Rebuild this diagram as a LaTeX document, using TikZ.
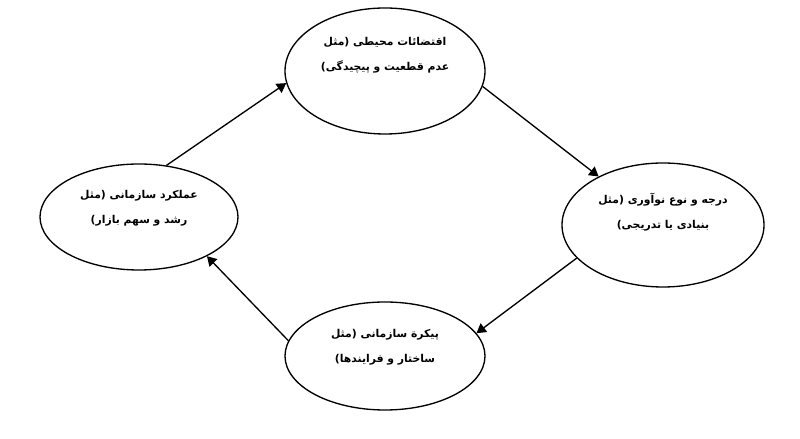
\documentclass[tikz,border=0pt]{standalone}
\usepackage{fontspec}
\TeXXeTstate=1
\newfontfamily\arabicfont[Script=Arabic]{DejaVu Sans}
\usetikzlibrary{arrows.meta,shapes.geometric}
\tikzset{>/.tip={Triangle[scale=1.25]},
  oval/.style={draw, ellipse, line width=0.95pt, inner sep=0pt},
  link/.style={->, line width=0.95pt},
  txt/.style={font=\arabicfont\bfseries\fontsize{7.7}{17.5}\selectfont, align=center}}
\newcommand{\rl}[1]{\beginR #1\endR}

\begin{document}
\begin{tikzpicture}
\useasboundingbox (0,0) rectangle (20,10.975);
\node[oval, minimum width=5cm, minimum height=3.15cm] (env) at (9.625,9.2) {};
\node[oval, minimum width=5.05cm, minimum height=3.1cm] (inno) at (16.575,5.35) {};
\node[oval, minimum width=5cm, minimum height=2.7cm] (struct) at (9.625,2.075) {};
\node[oval, minimum width=4.95cm, minimum height=2.65cm] (perf) at (3.475,5.55) {};

\node[txt] (envt) at (9.625,9.6) {\rl{اقتضائات محیطی (مثل}\\ \rl{عدم قطعیت و پیچیدگی)}};
\node[txt] (innot) at (16.575,5.675) {\rl{درجه و نوع نوآوری (مثل}\\ \rl{بنیادی یا تدریجی)}};
\node[txt] (structt) at (9.625,2.3) {\rl{پیکرة سازمانی (مثل}\\ \rl{ساختار و فرایندها)}};
\node[txt] (perft) at (3.475,5.775) {\rl{عملکرد سازمانی (مثل}\\ \rl{رشد و سهم بازار)}};

\draw[link] (perf.62) to (env.187);
\draw[link] (env.-9) to (inno.143);
\draw[link] (inno.201) to (struct.14);
\draw[link] (struct.171) to (perf.-30);
\end{tikzpicture}
\end{document}
